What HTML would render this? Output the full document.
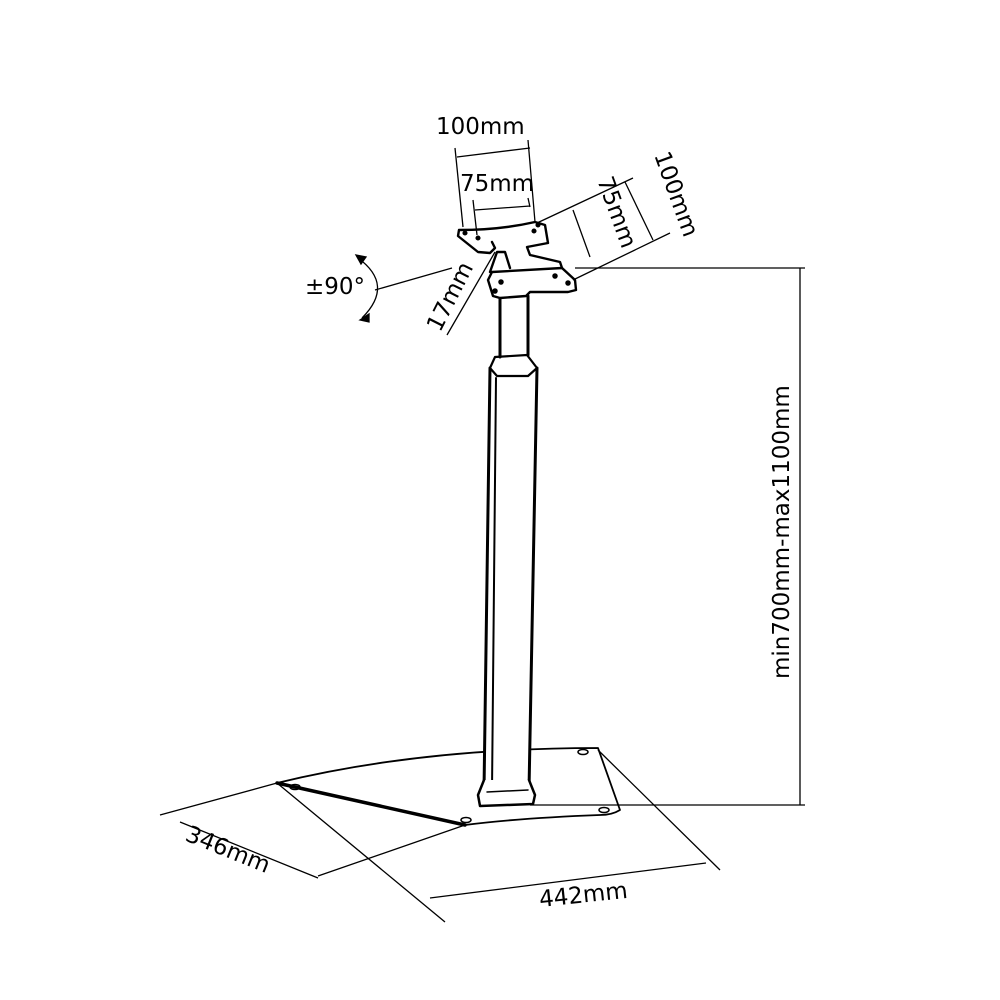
<!DOCTYPE html>
<html><head><meta charset="utf-8"><style>
html,body{margin:0;padding:0;background:#fff}
svg{display:block}
text{font-family:"DejaVu Sans","Liberation Sans",sans-serif;fill:#000}
</style></head><body>
<svg width="1000" height="1000" viewBox="0 0 1000 1000" xmlns="http://www.w3.org/2000/svg">
<g fill="none" stroke="#000" stroke-width="1.5" stroke-linejoin="round" stroke-linecap="round">
<path d="M277,783 Q420,748 598,748 L620,810 Q612,815 600,815 Q520,818 465,825 Z" fill="#fff" stroke-width="1.8"/>
<path d="M277,783 L465,825" stroke-width="3.5"/>
<ellipse cx="295" cy="787" rx="5" ry="2.5"/>
<ellipse cx="583" cy="752" rx="5" ry="2.5"/>
<ellipse cx="604" cy="810" rx="5" ry="2.5"/>
<ellipse cx="466" cy="820" rx="5" ry="2.5"/>
<path d="M490,368 L537,368 L529,790 L484,790 Z" fill="#fff" stroke-width="3"/>
<path d="M496,378 L492,790" stroke-width="2"/>
<path d="M490,368 L495,357 L527,355 L537,368 L528,376 L497,376 Z" fill="#fff" stroke-width="2.2"/>
<path d="M484,780 L478,795 L480,806 L533,804 L535,795 L529,780" fill="#fff" stroke-width="2.5"/>
<path d="M487,792 L528,790"/>
<path d="M500,357 L500,298 M528,355 L528,296" stroke-width="3"/>
<path d="M492,272 L562,268 L575,280 L576,290 L568,292 L530,292 L526,296 L500,298 L493,296 L488,280 Z" fill="#fff" stroke-width="2.4"/>
<circle cx="501" cy="282" r="2" fill="#000"/><circle cx="555" cy="276" r="2" fill="#000"/><circle cx="568" cy="283" r="2" fill="#000"/><circle cx="495" cy="291" r="2" fill="#000"/>
<path d="M490,272 L497,252 L505,252 L510,268" stroke-width="2.4"/>
<path d="M459,230 Q500,230 535,222 L545,225 L548,243 L527,247 L530,255 L560,262 L562,268 M459,230 L458,236 L478,252 L490,253 L495,248 L492,242" fill="none" stroke-width="2.4"/>
<circle cx="465" cy="233" r="1.8" fill="#000"/><circle cx="478" cy="238" r="1.8" fill="#000"/><circle cx="534" cy="231" r="1.8" fill="#000"/><circle cx="538" cy="225" r="1.8" fill="#000"/>
</g>
<g fill="none" stroke="#000" stroke-width="1.3">
<path d="M455,148 L463,227 M528,140 L535,222 M457,157 L530,148"/>
<path d="M473,200 L477,235 M528,198 L530,207 M475,210 L530,206"/>
<path d="M537,223 L633,178 M573,280 L670,233 M625,182 L653,240"/>
<path d="M573,210 L590,257"/>
<path d="M447,335 L495,252"/>
<path d="M375,290 L452,268"/>
<path d="M358,258 Q395,285 362,318"/>
<path d="M356,255 L366,257 L361,264 Z M360,320 L369,314 L369,322 Z" fill="#000"/>
<path d="M575,268 L805,268 M530,805 L805,805 M800,268 L800,805"/>
<path d="M160,815 L277,783 M180,822 L318,878 M318,876 L465,825"/>
<path d="M277,783 L445,922 M430,898 L706,863 M598,750 L720,870"/>
</g>
<g font-size="23">
<text x="436" y="134">100mm</text>
<text x="460" y="191">75mm</text>
<text x="305" y="294">±90°</text>
<text transform="translate(654,155) rotate(70)">100mm</text>
<text transform="translate(597,180) rotate(70)">75mm</text>
<text transform="translate(440,333) rotate(-63)">17mm</text>
<text transform="translate(789,679) rotate(-90)">min700mm-max1100mm</text>
<text transform="translate(184,840) rotate(22)">346mm</text>
<text transform="translate(540,907) rotate(-6)">442mm</text>
</g>
</svg>
</body></html>
